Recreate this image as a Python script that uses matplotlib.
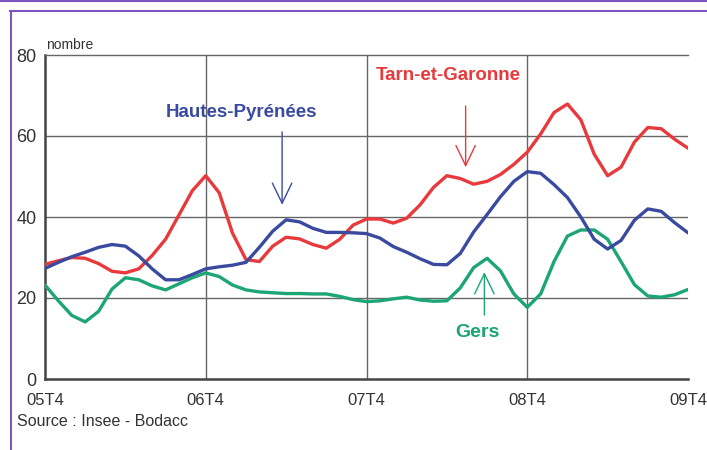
#! /usr/bin/env python3
import numpy as np
import matplotlib
matplotlib.use("Agg")
import matplotlib.pyplot as plt
from matplotlib.lines import Line2D

plt.rcParams["font.family"] = ["Liberation Sans", "DejaVu Sans"]

# monthly smoothed values, 05T4 .. 09T4
months = np.arange(49)
tarn = [28.3, 29.2, 30.0, 29.8, 28.5, 26.6, 26.2, 27.2, 30.5, 34.5, 40.5, 46.5,
        50.2, 46.0, 36.0, 29.5, 29.0, 32.8, 35.0, 34.6, 33.2, 32.3, 34.5, 38.0,
        39.5, 39.5, 38.5, 39.7, 43.0, 47.3, 50.2, 49.5, 48.1, 48.8, 50.5, 53.0,
        56.0, 60.5, 65.8, 67.9, 64.0, 55.5, 50.2, 52.3, 58.5, 62.1, 61.8, 59.2,
        57.0]
hautes = [27.3, 28.8, 30.2, 31.3, 32.5, 33.2, 32.8, 30.4, 27.2, 24.5, 24.5, 25.8,
          27.2, 27.7, 28.1, 28.8, 32.5, 36.5, 39.3, 38.8, 37.2, 36.2, 36.2, 36.1,
          35.9, 34.8, 32.7, 31.3, 29.7, 28.3, 28.2, 31.0, 36.3, 40.6, 45.0, 48.8,
          51.2, 50.8, 48.0, 44.8, 40.0, 34.5, 32.1, 34.2, 39.2, 42.0, 41.4, 38.6,
          36.1]
gers = [23.2, 19.3, 15.7, 14.1, 16.7, 22.2, 25.0, 24.5, 23.0, 22.0, 23.5, 25.0,
        26.2, 25.3, 23.2, 22.0, 21.5, 21.3, 21.1, 21.1, 21.0, 21.0, 20.4, 19.6,
        19.1, 19.3, 19.8, 20.2, 19.5, 19.2, 19.3, 22.5, 27.5, 29.8, 26.7, 21.0,
        17.7, 21.0, 29.0, 35.3, 36.8, 36.8, 34.5, 29.0, 23.3, 20.5, 20.2, 20.8,
        22.1]
xticks = [0, 12, 24, 36, 48]
xlabels = ["05T4", "06T4", "07T4", "08T4", "09T4"]
yticks = [0, 20, 40, 60, 80]

RED = "#e83a3c"
BLUE = "#3a4b9f"
GREEN = "#1ba673"
GRID = "#666666"
PURPLE = "#7d55c0"

fig = plt.figure(figsize=(7.07, 4.5), dpi=100)
ax = fig.add_axes([45/707, 1-379/450, 643/707, 324/450])
ax.set_xlim(0, 48)
ax.set_ylim(0, 80)

### grid
for y in yticks[1:-1]:
    ax.axhline(y, color=GRID, lw=1.0, zorder=1)
for x in xticks[1:-1]:
    ax.axvline(x, color=GRID, lw=1.0, zorder=1)

### curves
style = dict(lw=2.4, solid_joinstyle="round", solid_capstyle="round")
ax.plot(months, gers, color=GREEN, zorder=3, **style)
ax.plot(months, tarn, color=RED, zorder=3, **style)
ax.plot(months, hautes, color=BLUE, zorder=4, **style)

### axes look
ax.spines["right"].set_visible(False)
ax.spines["top"].set_color(GRID)
ax.spines["top"].set_linewidth(1.0)
ax.spines["left"].set_color("#444444")
ax.spines["bottom"].set_color("#444444")
ax.spines["left"].set_linewidth(1.8)
ax.spines["bottom"].set_linewidth(1.8)
ax.set_xticks(xticks)
ax.set_xticklabels(xlabels)
ax.set_yticks(yticks)
ax.tick_params(axis="x", length=0, pad=10, labelsize=12, labelcolor="#333333")
ax.tick_params(axis="y", length=0, pad=6, labelsize=13, labelcolor="#333333")

ax.annotate("nombre", xy=(0, 1), xycoords="axes fraction", xytext=(1, 2),
            textcoords="offset points", fontsize=10, color="#333333",
            ha="left", va="bottom")

### labels + arrows
arr = dict(arrowstyle="->,head_length=1.45,head_width=0.7", lw=1.0,
           mutation_scale=10, shrinkA=0, shrinkB=0)
ax.text(14.7, 65.9, "Hautes-Pyrénées", color=BLUE, fontsize=13.5,
        fontweight="bold", ha="center", va="center")
ax.annotate("", xy=(17.7, 43), xytext=(17.7, 61), arrowprops=dict(arr, color=BLUE))
ax.text(30.1, 75, "Tarn-et-Garonne", color=RED, fontsize=13.5,
        fontweight="bold", ha="center", va="center")
ax.annotate("", xy=(31.4, 52.3), xytext=(31.4, 67.4), arrowprops=dict(arr, color=RED))
ax.text(32.3, 11.6, "Gers", color=GREEN, fontsize=14,
        fontweight="bold", ha="center", va="center")
ax.annotate("", xy=(32.8, 26.4), xytext=(32.8, 15.8), arrowprops=dict(arr, color=GREEN))

fig.text(17/707, 1-426/450, "Source : Insee - Bodacc", fontsize=11.5,
         color="#333333", ha="left", va="baseline")

### purple frame
fig.add_artist(Line2D([0, 1], [1-1/450, 1-1/450], color=PURPLE, lw=1.5))
fig.add_artist(Line2D([10/707, 1], [1-11/450, 1-11/450], color=PURPLE, lw=1.5))
fig.add_artist(Line2D([11/707, 11/707], [1-11/450, 0], color=PURPLE, lw=1.5))

plt.savefig("out.png", dpi=100)
